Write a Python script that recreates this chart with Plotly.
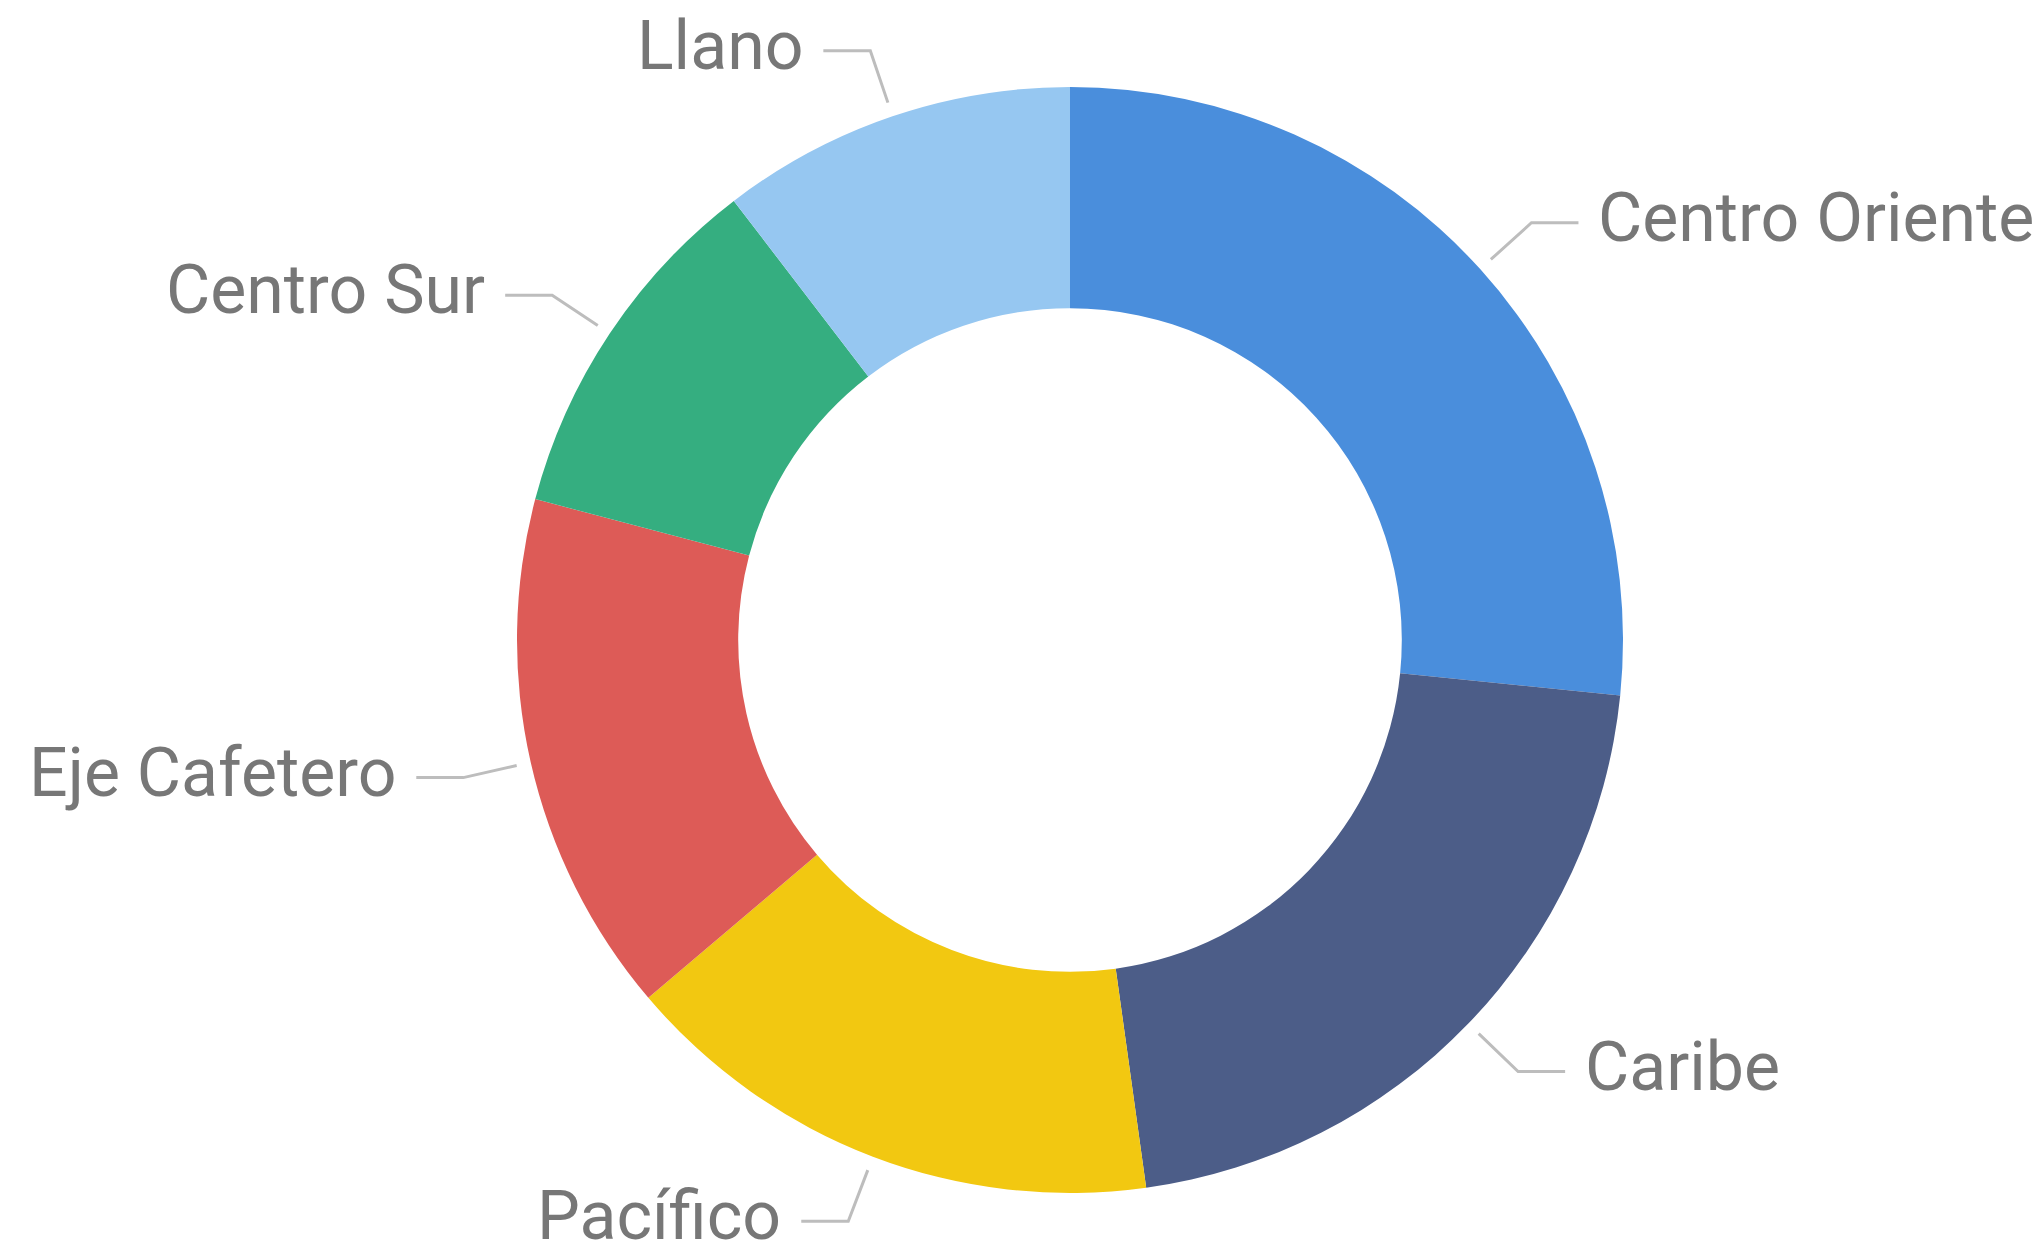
import math
import plotly.graph_objects as go

regions = ["Centro Oriente", "Caribe", "Pacífico", "Eje Cafetero", "Centro Sur", "Llano"]
values = [26.6, 21.2, 16.0, 15.3, 10.5, 10.4]
colors = ["#4A8EDC", "#4C5D88", "#F2C811", "#DD5B57", "#35AE80", "#96C7F1"]

W, H = 2044, 1248
CX, CY, R = 1062, 632, 553  # pixel centre (compensating the 8px page margin) and outer radius

fig = go.Figure(go.Pie(
    labels=regions, values=values, sort=False, direction="clockwise", rotation=0,
    hole=0.6, textinfo="none", hoverinfo="label+value",
    marker=dict(colors=colors, line=dict(width=0)),
    domain=dict(x=[(CX - R) / W, (CX + R) / W], y=[(H - CY - R) / H, (H - CY + R) / H]),
    showlegend=False,
))

def px(x, y):
    return x / W, 1 - y / H

shapes, annotations = [], []
total = sum(values)
cum = 0.0
for name, v in zip(regions, values):
    mid = (cum + v / 2) / total * 2 * math.pi
    cum += v
    s, c = math.sin(mid), math.cos(mid)
    r1, r2 = R * 1.026, R * 1.125
    x1, y1 = CX + r1 * s, CY - r1 * c
    x2, y2 = CX + r2 * s, CY - r2 * c
    side = 1 if s >= 0 else -1
    x3 = x2 + side * 47
    p1, p2, p3 = px(x1, y1), px(x2, y2), px(x3, y2)
    shapes.append(dict(type="path", xref="paper", yref="paper",
                       path=f"M {p1[0]},{p1[1]} L {p2[0]},{p2[1]} L {p3[0]},{p3[1]}",
                       line=dict(color="#BDBDBD", width=3)))
    tx, ty = px(x3 + side * 18, y2 - 5)
    annotations.append(dict(xref="paper", yref="paper", x=tx, y=ty, text=name,
                            showarrow=False, xanchor="left" if side > 0 else "right",
                            yanchor="middle",
                            font=dict(family="Roboto, Liberation Sans, sans-serif", size=68,
                                      color="#777777")))

fig.update_layout(
    width=W, height=H, margin=dict(l=0, r=0, t=0, b=0),
    paper_bgcolor="white", plot_bgcolor="white",
    shapes=shapes, annotations=annotations,
)
fig.write_html("out.html")
